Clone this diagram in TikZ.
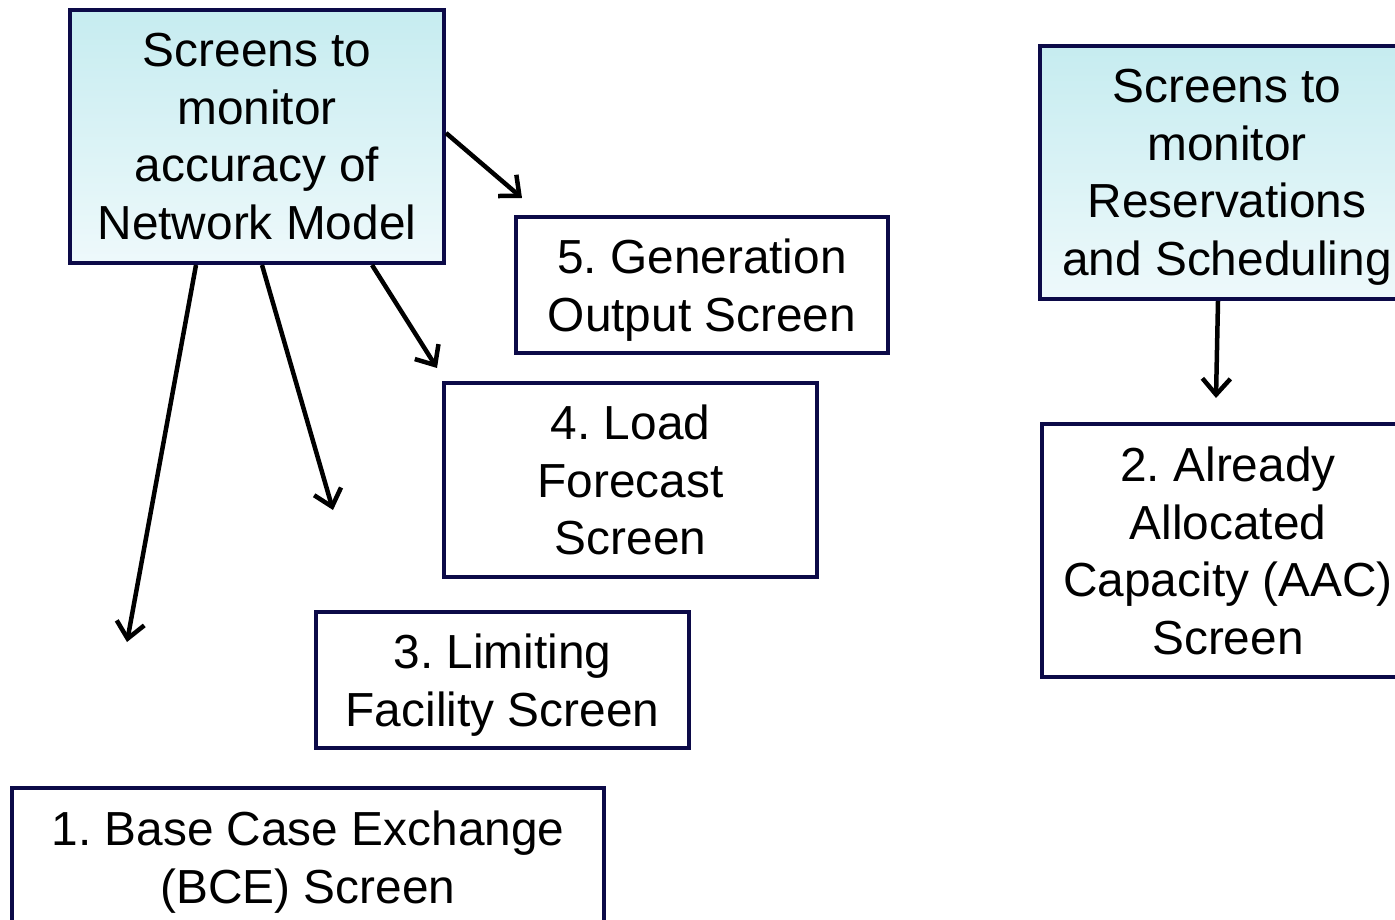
\documentclass[tikz,border=0pt]{standalone}
\usepackage{fontspec}
\setmainfont{Liberation Sans}
\usetikzlibrary{arrows.meta,calc}
\frenchspacing
\definecolor{navy}{RGB}{12,10,72}
\definecolor{topc}{RGB}{198,236,240}
\definecolor{botc}{RGB}{238,249,251}
\tikzset{
  box/.style={draw=navy, line width=4pt, inner sep=0pt, align=center,
    text depth=0pt, font=\fontsize{47.8}{57.5}\selectfont},
  headbox/.style={box, top color=topc, bottom color=botc},
  conn/.style={line width=4.5pt, -{Straight Barb[length=16pt,width=28pt,line width=4.5pt]}}
}
\begin{document}
\begin{tikzpicture}[x=1pt,y=-1pt]
\useasboundingbox (0,0) rectangle (1395,920);
\clip (0,0) rectangle (1395,920);
\node[headbox, minimum width=374pt, minimum height=253pt] (A) at (257,136.5)
  {Screens to\\monitor\\accuracy of\\Network Model};
\node[headbox, minimum width=374pt, minimum height=253pt] (B) at (1227,172.5)
  {Screens to\\monitor\\Reservations\\and Scheduling};
\node[box, minimum width=372pt, minimum height=136pt] (C) at (702,285)
  {5. Generation\\Output Screen};
\node[box, minimum width=373pt, minimum height=194pt] (D) at (630.5,480)
  {4. Load\\Forecast\\Screen};
\node[box, minimum width=373pt, minimum height=136pt] (E) at (502.5,680)
  {3. Limiting\\Facility Screen};
\node[box, minimum width=592pt, minimum height=138pt] (F) at (308,857)
  {1. Base Case Exchange\\(BCE) Screen};
\node[box, minimum width=372pt, minimum height=253pt] (G) at (1228,550.5)
  {2. Already\\Allocated\\Capacity (AAC)\\Screen};
\coordinate (e5) at (522,198);
\coordinate (e4) at (437,368);
\coordinate (e3) at (333,510);
\coordinate (e1) at (127,642);
\coordinate (e2) at (1216,398);
\draw[conn] ([yshift=3.5pt]A.east) -- (e5);
\draw[conn] ([xshift=115pt]A.south) -- (e4);
\draw[conn] ([xshift=5pt]A.south) -- (e3);
\draw[conn] ([xshift=-61pt]A.south) -- (e1);
\draw[conn] ([xshift=-9pt]B.south) -- (e2);
\end{tikzpicture}
\end{document}
